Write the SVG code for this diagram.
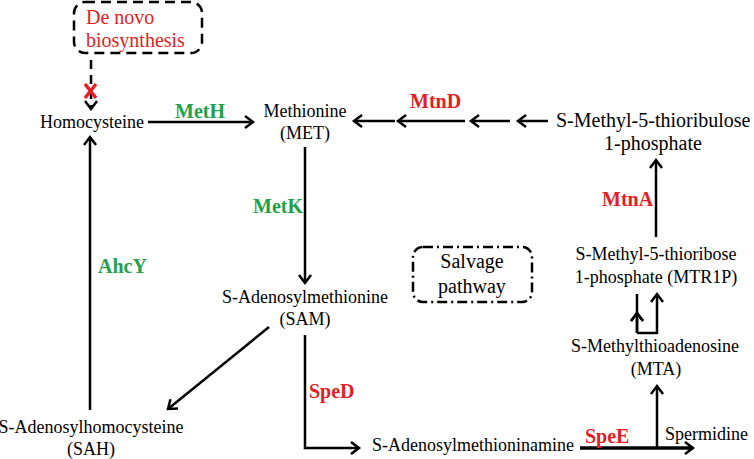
<svg xmlns="http://www.w3.org/2000/svg" width="754" height="459" viewBox="0 0 754 459">
<style>
text{font-family:"Liberation Serif","Times New Roman",serif;font-size:18px;fill:#000}
.c{text-anchor:middle}
.g{font-weight:bold;font-size:20px;fill:#22a14a}
.r{font-weight:bold;font-size:20px;fill:#e31e24}
.ln{stroke:#000;stroke-width:2.5;fill:none}
</style>
<defs>
<marker id="ah" markerUnits="userSpaceOnUse" markerWidth="20" markerHeight="20" viewBox="-10 -10 20 20" refX="0" refY="0" orient="auto">
<path d="M-8,-6 L0,0 L-8,6" fill="none" stroke="#000" stroke-width="2.5"/>
</marker>
</defs>
<g id="denovo">
<rect x="74" y="2" width="128" height="51" rx="11" fill="none" stroke="#000" stroke-width="2.5" stroke-dasharray="10,6"/>
<text x="86" y="24" style="font-size:20px;fill:#e31e24">De novo</text>
<text x="86" y="47" style="font-size:20px;fill:#e31e24">biosynthesis</text>
</g>
<g id="salvage">
<rect x="413" y="247" width="119" height="55" rx="10" fill="none" stroke="#000" stroke-width="2.5" stroke-dasharray="10,4,2,4"/>
<text x="472" y="268" class="c" style="font-size:20px">Salvage</text>
<text x="472" y="293" class="c" style="font-size:20px">pathway</text>
</g>
<g id="homocysteine"><text x="40" y="128">Homocysteine</text></g>
<g id="methionine"><text x="305" y="117" class="c">Methionine</text><text x="305" y="139" class="c">(MET)</text></g>
<g id="mtrulp"><text x="556" y="127" style="font-size:20px">S-Methyl-5-thioribulose</text><text x="653" y="150" class="c" style="font-size:20px">1-phosphate</text></g>
<g id="mtr1p"><text x="656" y="260" class="c">S-Methyl-5-thioribose</text><text x="656" y="283" class="c">1-phosphate (MTR1P)</text></g>
<g id="mta"><text x="655" y="352" class="c">S-Methylthioadenosine</text><text x="656" y="375" class="c">(MTA)</text></g>
<g id="sam"><text x="305" y="303" class="c">S-Adenosylmethionine</text><text x="305" y="325" class="c">(SAM)</text></g>
<g id="sah"><text x="91" y="433" class="c">S-Adenosylhomocysteine</text><text x="91" y="455" class="c">(SAH)</text></g>
<g id="dcsam"><text x="372" y="451">S-Adenosylmethioninamine</text></g>
<g id="spermidine"><text x="665" y="440">Spermidine</text></g>
<g id="connectors">
<path class="ln" d="M91,60 V109" stroke-dasharray="9,6" marker-end="url(#ah)"/>
<path d="M85,84 L96,98 M96,84 L85,98" stroke="#e31e24" stroke-width="3.5" fill="none"/>
<path class="ln" d="M148,122 H253" marker-end="url(#ah)"/>
<path class="ln" d="M395,121 H354" marker-end="url(#ah)"/>
<path class="ln" d="M465,121 H398" marker-end="url(#ah)"/>
<path class="ln" d="M510,121 H471" marker-end="url(#ah)"/>
<path class="ln" d="M548,121 H518" marker-end="url(#ah)"/>
<path class="ln" d="M656,237 V160" marker-end="url(#ah)"/>
<path class="ln" d="M637,333 V294 M637,314 V313" marker-end="url(#ah)"/>
<path class="ln" d="M637,333 V313" marker-end="url(#ah)"/>
<path class="ln" d="M637,333 H657 V294" marker-end="url(#ah)"/>
<path class="ln" d="M657,448 V386" marker-end="url(#ah)"/>
<path class="ln" d="M305,147 V283" marker-end="url(#ah)"/>
<path class="ln" d="M90,410 V137" marker-end="url(#ah)"/>
<path class="ln" d="M269,327 L168,409" marker-end="url(#ah)"/>
<path class="ln" d="M305,335 V448 H359" marker-end="url(#ah)"/>
<path d="M580,448 H693" stroke="#000" stroke-width="3.5" fill="none" marker-end="url(#ah)"/>
</g>
<g id="labels">
<text x="175" y="118" class="g">MetH</text>
<text x="253" y="213" class="g">MetK</text>
<text x="98" y="273" class="g">AhcY</text>
<text x="410" y="108" class="r">MtnD</text>
<text x="602" y="206" class="r">MtnA</text>
<text x="309" y="398" class="r">SpeD</text>
<text x="585" y="443" class="r">SpeE</text>
</g>
</svg>
